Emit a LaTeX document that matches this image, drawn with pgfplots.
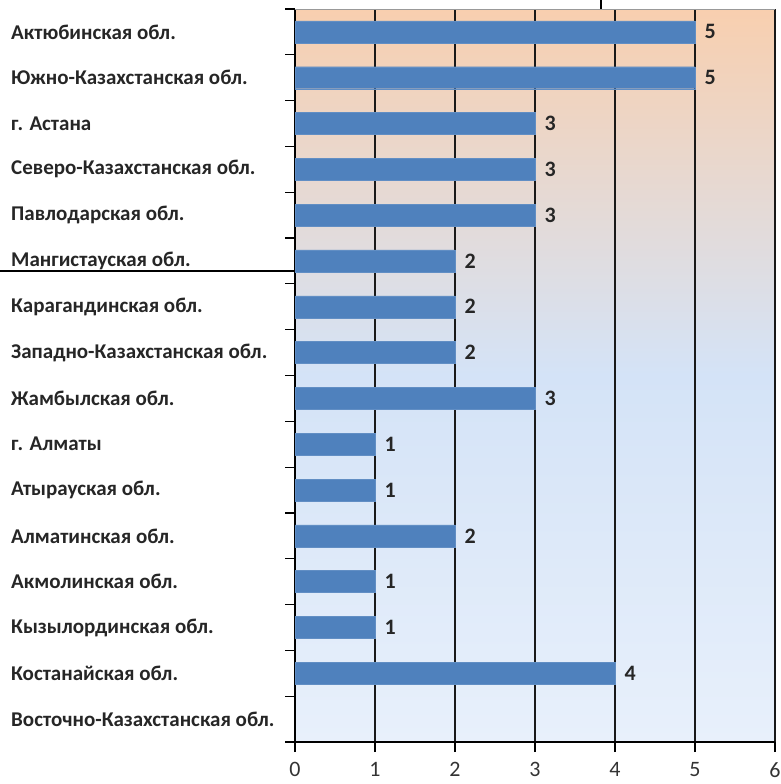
\documentclass[border=0pt]{standalone}
\usepackage{fontspec}
\setmainfont{Carlito}
\usepackage{pgfplots}
\pgfplotsset{compat=1.18}
\definecolor{barblue}{HTML}{4F81BD}
\definecolor{bgtop}{HTML}{F8CFAF}
\definecolor{bgmid}{HTML}{D4E3F7}
\definecolor{bgbot}{HTML}{E8F0FB}
\begin{document}
\begin{tikzpicture}[x=1pt,y=1pt]
\useasboundingbox (0,0) rectangle (781,784);
\begin{axis}[
  at={(295pt,42pt)}, anchor=south west,
  scale only axis, width=480pt, height=733pt,
  xbar, bar width=22pt,
  xmin=0, xmax=6, ymin=-0.5, ymax=15.5, y dir=reverse,
  axis background/.style={shade, top color=bgtop, bottom color=bgbot, middle color=bgmid},
  axis lines*=left,
  axis line style={black, line width=1.4pt, -},
  xtick={0,...,6},
  xmajorgrids,
  major grid style={black!90, line width=1.6pt},
  tick align=outside,
  major tick length=10pt,
  x tick style={black, line width=1.4pt},
  /pgf/number format/assume math mode=true,
  xticklabel style={font=\fontsize{22}{24}\selectfont, text=black!80, inner sep=0pt, yshift=-10pt},
  ytick={0,...,15},
  yticklabels={Актюбинская обл.,Южно-Казахстанская обл.,г. Астана,Северо-Казахстанская обл.,Павлодарская обл.,Мангистауская обл.,Карагандинская обл.,Западно-Казахстанская обл.,Жамбылская обл.,г. Алматы,Атырауская обл.,Алматинская обл.,Акмолинская обл.,Кызылординская обл.,Костанайская обл.,Восточно-Казахстанская обл.},
  y tick style={draw=none},
  yticklabel style={anchor=west, xshift=-274pt, inner sep=0pt, font=\fontsize{21}{23}\selectfont\bfseries, text=black!85},
  extra y ticks={-0.5,0.5,...,15.5},
  extra y tick labels={},
  extra y tick style={y tick style={draw=black, line width=1.2pt}},
  nodes near coords,
  every node near coord/.append style={font=\fontsize{22}{24}\selectfont\bfseries, anchor=west, xshift=6pt, text=black!85},
]
\addplot[fill=barblue, draw=barblue!90!white] coordinates {
(5,0) (5,1) (3,2) (3,3) (3,4) (2,5) (2,6) (2,7) (3,8) (1,9) (1,10) (2,11) (1,12) (1,13) (4,14)
};
\end{axis}
\draw[black!40, line width=0.8pt] (295,775) -- (775,775);
\draw[black, line width=1.5pt] (601,784) -- (601,775);
\draw[black, line width=1.5pt] (0,513) -- (295,513);
\end{tikzpicture}
\end{document}
